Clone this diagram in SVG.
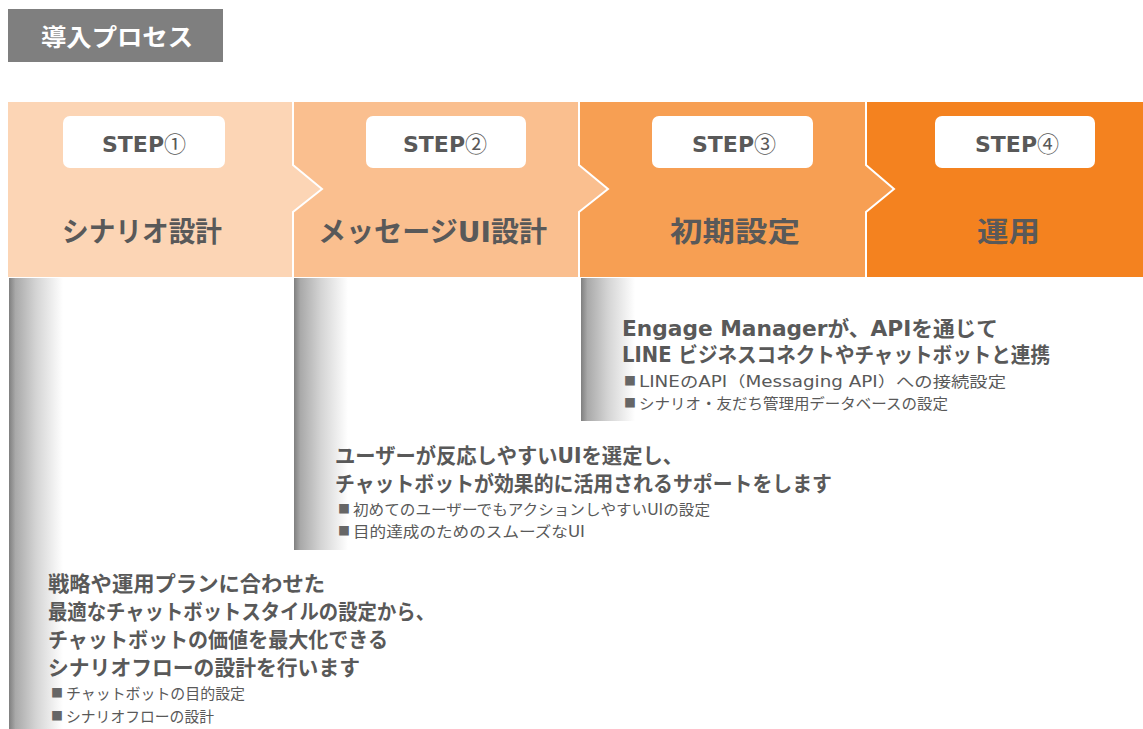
<svg xmlns="http://www.w3.org/2000/svg" width="1143" height="729" viewBox="0 0 1143 729">
<defs>
<linearGradient id="fade" x1="0" y1="0" x2="1" y2="0">
<stop offset="0" stop-color="#7f7f7f"/>
<stop offset="0.12" stop-color="#a9a9a9"/>
<stop offset="0.5" stop-color="#d4d4d4"/>
<stop offset="1" stop-color="#ffffff"/>
</linearGradient>
<style>
.jp{font-family:"DejaVu Sans","Noto Sans CJK JP",sans-serif;fill:#595959}
.title{font-size:28px;font-weight:bold}
.step{font-size:22px;font-weight:bold}
.num{font-family:"Noto Sans CJK JP",sans-serif;font-weight:normal}
.lead{font-size:21px;font-weight:bold}
.bul{font-size:15px}
.sq{font-family:"Noto Sans CJK JP",sans-serif;font-size:12px;fill:#666666}
.box{fill:#ffffff}
.sep{fill:none;stroke:#ffffff;stroke-width:2}
</style>
</defs>
<rect width="1143" height="729" fill="#ffffff"/>
<g id="header">
<rect x="8" y="9" width="215" height="53" fill="#7f7f7f"/>
<text x="41" y="46" font-family="'Noto Sans CJK JP',sans-serif" font-size="24" font-weight="bold" fill="#ffffff" textLength="152" lengthAdjust="spacingAndGlyphs">導入プロセス</text>
</g>
<g id="band">
<rect x="866" y="102" width="277" height="175" fill="#f4821f"/>
<polygon points="579,102 866,102 866,165 894,189 866,212 866,277 579,277" fill="#f79f53"/>
<polygon points="293,102 579,102 579,165 608,189 579,212 579,277 293,277" fill="#fabf8f"/>
<polygon points="8,102 293,102 293,165 322,189 293,212 293,277 8,277" fill="#fcd5b5"/>
<polyline class="sep" points="293,102 293,165 322,189 293,212 293,277"/>
<polyline class="sep" points="579,102 579,165 608,189 579,212 579,277"/>
<polyline class="sep" points="866,102 866,165 894,189 866,212 866,277"/>
</g>
<g id="step1">
<rect class="box" x="63" y="116" width="162" height="52" rx="7"/>
<text class="jp step" x="102" y="152">STEP<tspan class="num">①</tspan></text>
<text class="jp title" x="62" y="242" textLength="160" lengthAdjust="spacingAndGlyphs">シナリオ設計</text>
</g>
<g id="step2">
<rect class="box" x="366" y="116" width="160" height="52" rx="7"/>
<text class="jp step" x="403" y="152">STEP<tspan class="num">②</tspan></text>
<text class="jp title" x="318" y="242" textLength="229" lengthAdjust="spacingAndGlyphs">メッセージUI設計</text>
</g>
<g id="step3">
<rect class="box" x="652" y="116" width="161" height="52" rx="7"/>
<text class="jp step" x="692" y="152">STEP<tspan class="num">③</tspan></text>
<text class="jp title" x="670" y="242" textLength="130" lengthAdjust="spacingAndGlyphs">初期設定</text>
</g>
<g id="step4">
<rect class="box" x="935" y="116" width="160" height="52" rx="7"/>
<text class="jp step" x="975" y="152">STEP<tspan class="num">④</tspan></text>
<text class="jp title" x="977" y="242" textLength="63" lengthAdjust="spacingAndGlyphs">運用</text>
</g>
<g id="bars">
<rect x="9" y="278" width="54" height="451" fill="url(#fade)"/>
<rect x="294" y="278" width="54" height="272" fill="url(#fade)"/>
<rect x="581" y="278" width="54" height="143" fill="url(#fade)"/>
</g>
<g id="desc3">
<text class="jp lead" x="622" y="336" textLength="376" lengthAdjust="spacingAndGlyphs">Engage Managerが、APIを通じて</text>
<text class="jp lead" x="622" y="362" textLength="428" lengthAdjust="spacingAndGlyphs">LINE ビジネスコネクトやチャットボットと連携</text>
<text class="sq" x="624" y="386">■</text>
<text class="jp bul" x="639" y="387" textLength="367" lengthAdjust="spacingAndGlyphs">LINEのAPI（Messaging API）への接続設定</text>
<text class="sq" x="624" y="408">■</text>
<text class="jp bul" x="639" y="409" textLength="309" lengthAdjust="spacingAndGlyphs">シナリオ・友だち管理用データベースの設定</text>
</g>
<g id="desc2">
<text class="jp lead" x="335" y="463" textLength="348" lengthAdjust="spacingAndGlyphs">ユーザーが反応しやすいUIを選定し、</text>
<text class="jp lead" x="335" y="491" textLength="497" lengthAdjust="spacingAndGlyphs">チャットボットが効果的に活用されるサポートをします</text>
<text class="sq" x="338" y="514">■</text>
<text class="jp bul" x="353" y="515" textLength="357" lengthAdjust="spacingAndGlyphs">初めてのユーザーでもアクションしやすいUIの設定</text>
<text class="sq" x="338" y="536">■</text>
<text class="jp bul" x="353" y="537" textLength="232" lengthAdjust="spacingAndGlyphs">目的達成のためのスムーズなUI</text>
</g>
<g id="desc1">
<text class="jp lead" x="48" y="591" textLength="277" lengthAdjust="spacingAndGlyphs">戦略や運用プランに合わせた</text>
<text class="jp lead" x="48" y="619" textLength="387" lengthAdjust="spacingAndGlyphs">最適なチャットボットスタイルの設定から、</text>
<text class="jp lead" x="48" y="647" textLength="340" lengthAdjust="spacingAndGlyphs">チャットボットの価値を最大化できる</text>
<text class="jp lead" x="48" y="675" textLength="312" lengthAdjust="spacingAndGlyphs">シナリオフローの設計を行います</text>
<text class="sq" x="51" y="698">■</text>
<text class="jp bul" x="66" y="699" textLength="179" lengthAdjust="spacingAndGlyphs">チャットボットの目的設定</text>
<text class="sq" x="51" y="721">■</text>
<text class="jp bul" x="66" y="722" textLength="148" lengthAdjust="spacingAndGlyphs">シナリオフローの設計</text>
</g>
</svg>
